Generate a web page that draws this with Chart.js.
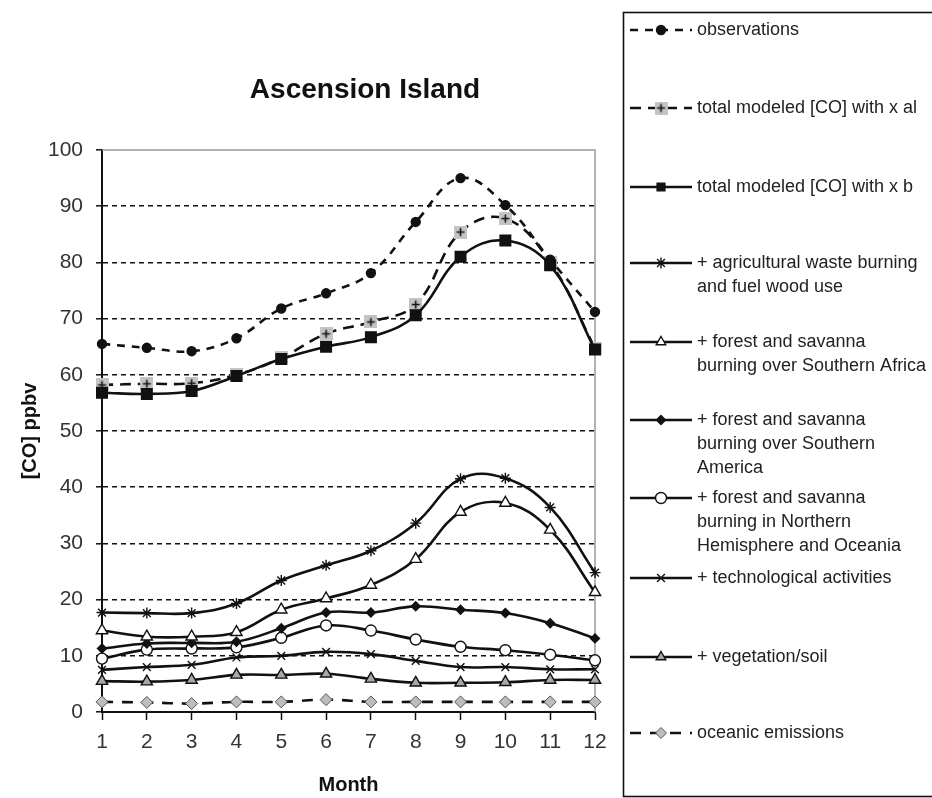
<!DOCTYPE html>
<html>
<head>
<meta charset="utf-8">
<title>Ascension Island</title>
<script src="https://cdn.jsdelivr.net/npm/chart.js@4/dist/chart.umd.min.js"></script>
<style>
  html, body { margin: 0; padding: 0; background: #fff; overflow: hidden; }
  #wrap { position: relative; width: 932px; height: 798px; }
</style>
</head>
<body>
<div id="wrap"><canvas id="chart" width="932" height="798"></canvas></div>
<script>
// Monthly mean CO mixing ratios at Ascension Island (ppbv)
const MONTHS = ['1', '2', '3', '4', '5', '6', '7', '8', '9', '10', '11', '12'];
const OBSERVATIONS = [65.5, 64.8, 64.2, 66.5, 71.8, 74.5, 78.1, 87.2, 95.0, 90.2, 80.5, 71.2];
const TOTAL_XA     = [58.2, 58.4, 58.5, 60.0, 63.0, 67.3, 69.4, 72.5, 85.4, 87.8, 80.0, 64.7];
const TOTAL_XB     = [56.8, 56.6, 57.1, 59.8, 62.8, 65.0, 66.7, 70.6, 81.0, 83.9, 79.5, 64.5];
const AGRICULTURE  = [17.7, 17.6, 17.6, 19.3, 23.4, 26.1, 28.7, 33.6, 41.5, 41.6, 36.4, 24.8];
const S_AFRICA     = [14.5, 13.4, 13.4, 14.2, 18.2, 20.2, 22.6, 27.2, 35.6, 37.2, 32.4, 21.3];
const S_AMERICA    = [11.3, 12.2, 12.3, 12.5, 14.9, 17.7, 17.7, 18.8, 18.2, 17.6, 15.8, 13.1];
const N_HEMISPHERE = [9.5, 11.1, 11.3, 11.5, 13.2, 15.4, 14.5, 12.9, 11.6, 11.0, 10.2, 9.2];
const TECHNOLOGY   = [7.5, 8.0, 8.4, 9.7, 10.0, 10.7, 10.3, 9.1, 8.0, 8.0, 7.6, 7.6];
const VEGETATION   = [5.5, 5.4, 5.7, 6.6, 6.6, 6.8, 5.9, 5.2, 5.2, 5.3, 5.7, 5.7];
const OCEANIC      = [1.8, 1.7, 1.5, 1.8, 1.8, 2.2, 1.8, 1.8, 1.8, 1.8, 1.8, 1.8];

const Y_TICKS = [0, 10, 20, 30, 40, 50, 60, 70, 80, 90, 100];

const LEGEND_TEXT = [
  ['observations'],
  ['total modeled [CO] with x al'],
  ['total modeled [CO] with x b'],
  ['+ agricultural waste burning', 'and fuel wood use'],
  ['+ forest and savanna', 'burning over Southern Africa'],
  ['+ forest and savanna', 'burning over Southern', 'America'],
  ['+ forest and savanna', 'burning in Northern', 'Hemisphere and Oceania'],
  ['+ technological activities'],
  ['+ vegetation/soil'],
  ['oceanic emissions']
];
const LEGEND_Y = [30, 108, 187, 263, 342, 420, 498, 578, 657, 733];

const FONT = "'Liberation Sans', Arial, Helvetica, sans-serif";

// grey square with a black plus sign, used for the x al run
function plusSquare() {
  const c = document.createElement('canvas');
  c.width = 13; c.height = 13;
  const g = c.getContext('2d');
  g.fillStyle = '#c4c4c4';
  g.fillRect(0, 0, 13, 13);
  g.strokeStyle = '#111';
  g.lineWidth = 1.6;
  g.beginPath();
  g.moveTo(6.5, 2.5); g.lineTo(6.5, 10.5);
  g.moveTo(2.5, 6.5); g.lineTo(10.5, 6.5);
  g.stroke();
  return c;
}

function series(label, data, extra) {
  return Object.assign({
    label: label,
    data: data,
    borderColor: '#111',
    borderWidth: 2.6,
    tension: 0.4,
    fill: false,
    pointBorderColor: '#111',
    pointBorderWidth: 1.4,
    clip: false
  }, extra);
}

const datasets = [
  series('observations', OBSERVATIONS, {
    borderDash: [8, 7], pointStyle: 'circle', pointRadius: 4.5,
    pointBackgroundColor: '#111'
  }),
  series('total modeled [CO] with x al', TOTAL_XA, {
    borderDash: [11, 7], pointStyle: plusSquare(), pointRadius: 6
  }),
  series('total modeled [CO] with x b', TOTAL_XB, {
    order: -1,
    pointStyle: 'rect', pointRadius: 7.5, pointBackgroundColor: '#111'
  }),
  series('+ agricultural waste burning and fuel wood use', AGRICULTURE, {
    pointStyle: 'star', pointRadius: 5.5, pointBorderWidth: 1.4
  }),
  series('+ forest and savanna burning over Southern Africa', S_AFRICA, {
    pointStyle: 'triangle', pointRadius: 6.5, pointBackgroundColor: '#fff'
  }),
  series('+ forest and savanna burning over Southern America', S_AMERICA, {
    pointStyle: 'rectRot', pointRadius: 4.5, pointBackgroundColor: '#111'
  }),
  series('+ forest and savanna burning in Northern Hemisphere and Oceania', N_HEMISPHERE, {
    pointStyle: 'circle', pointRadius: 5.5, pointBackgroundColor: '#fff'
  }),
  series('+ technological activities', TECHNOLOGY, {
    pointStyle: 'crossRot', pointRadius: 5.5, pointBorderWidth: 1.4
  }),
  series('+ vegetation/soil', VEGETATION, {
    pointStyle: 'triangle', pointRadius: 6.5, pointBackgroundColor: '#a8a8a8'
  }),
  series('oceanic emissions', OCEANIC, {
    borderDash: [11, 9], pointStyle: 'rectRot', pointRadius: 6,
    pointBackgroundColor: '#bdbdbd', pointBorderColor: '#555', pointBorderWidth: 1
  })
];

// Title, plot frame and the boxed legend on the right
const decorations = {
  id: 'decorations',
  beforeDatasetsDraw(chart) {
    const { ctx, chartArea: a } = chart;
    ctx.save();
    ctx.strokeStyle = '#9a9a9a';
    ctx.lineWidth = 1.5;
    ctx.beginPath();
    ctx.moveTo(a.left, a.top);
    ctx.lineTo(a.right, a.top);
    ctx.lineTo(a.right, a.bottom);
    ctx.stroke();
    ctx.restore();
  },
  afterDraw(chart) {
    const { ctx } = chart;
    ctx.save();
    // title
    ctx.fillStyle = '#111';
    ctx.font = 'bold 28px ' + FONT;
    ctx.textAlign = 'center';
    ctx.textBaseline = 'middle';
    ctx.fillText('Ascension Island', 365, 90);

    // legend frame (runs past the right edge of the page)
    ctx.strokeStyle = '#111';
    ctx.lineWidth = 1.6;
    ctx.strokeRect(623.5, 12.5, 400, 784);

    ctx.font = '18px ' + FONT;
    ctx.textAlign = 'left';
    ctx.fillStyle = '#222';
    chart.data.datasets.forEach((ds, i) => {
      const y = LEGEND_Y[i];
      ctx.save();
      ctx.strokeStyle = ds.borderColor;
      ctx.lineWidth = 2.4;
      ctx.setLineDash(ds.borderDash || []);
      ctx.beginPath();
      ctx.moveTo(630, y);
      ctx.lineTo(692, y);
      ctx.stroke();
      ctx.restore();
      ctx.save();
      ctx.fillStyle = ds.pointBackgroundColor || '#111';
      ctx.strokeStyle = ds.pointBorderColor;
      ctx.lineWidth = ds.pointBorderWidth;
      Chart.helpers.drawPoint(ctx, {
        pointStyle: ds.pointStyle,
        radius: Math.min(ds.pointRadius, 5.5),
        borderWidth: ds.pointBorderWidth,
        rotation: 0
      }, 661, y);
      ctx.restore();
      LEGEND_TEXT[i].forEach((line, k) => {
        ctx.fillText(line, 697, y + k * 24);
      });
    });
    ctx.restore();
  }
};

new Chart(document.getElementById('chart'), {
  type: 'line',
  data: { labels: MONTHS, datasets: datasets },
  options: {
    responsive: false,
    animation: false,
    events: [],
    layout: { padding: { left: 0, top: 150, right: 337, bottom: 0 } },
    plugins: { legend: { display: false }, tooltip: { enabled: false }, title: { display: false } },
    scales: {
      x: {
        type: 'category',
        offset: false,
        afterFit(scale) { scale.height = 86; },
        grid: { drawOnChartArea: false, drawTicks: true, tickLength: 8, tickColor: '#111', tickWidth: 1.5 },
        border: { display: true, color: '#111', width: 2 },
        ticks: { color: '#333', padding: 10, font: { family: FONT, size: 21 }, maxRotation: 0, autoSkip: false },
        title: { display: true, text: 'Month', color: '#111', font: { family: FONT, size: 20, weight: 'bold' }, padding: { top: 0, bottom: 1 } }
      },
      y: {
        min: 0,
        max: 100,
        afterFit(scale) { scale.width = 102; },
        afterBuildTicks(scale) { scale.ticks = Y_TICKS.map(v => ({ value: v })); },
        grid: {
          color: c => (c.tick && (c.tick.value === 0 || c.tick.value === 100)) ? 'rgba(0,0,0,0)' : '#111',
          lineWidth: 1.6,
          drawTicks: true,
          tickLength: 6,
          tickColor: '#111',
          tickWidth: 1.5,
          tickBorderDash: []
        },
        border: { display: true, color: '#111', width: 2, dash: [5, 4] },
        ticks: { color: '#333', padding: 13, font: { family: FONT, size: 21 } },
        title: { display: true, text: '[CO] ppbv', color: '#111', font: { family: FONT, size: 20, weight: 'bold' }, padding: { top: 18, bottom: 0 } }
      }
    }
  },
  plugins: [decorations]
});
</script>
</body>
</html>
